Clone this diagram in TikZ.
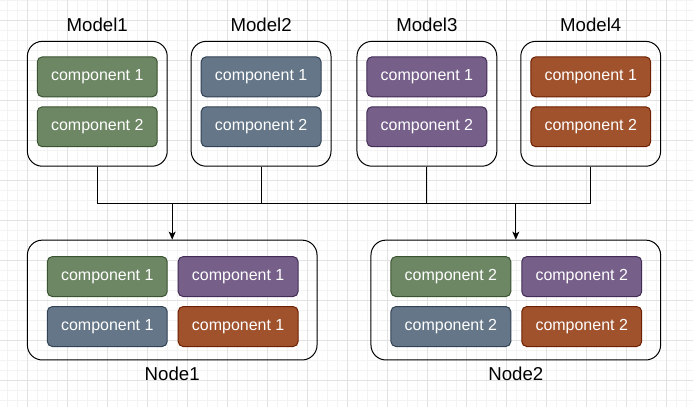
\documentclass[tikz,border=0pt]{standalone}
\usepackage{fontspec}
\setmainfont{Liberation Sans}
\usetikzlibrary{arrows.meta,positioning}

\definecolor{greenfill}{HTML}{6D8764}
\definecolor{greendraw}{HTML}{3A5431}
\definecolor{bluefill}{HTML}{647687}
\definecolor{bluedraw}{HTML}{314354}
\definecolor{purplefill}{HTML}{76608A}
\definecolor{purpledraw}{HTML}{432D57}
\definecolor{orangefill}{HTML}{A0522D}
\definecolor{orangedraw}{HTML}{6D1F00}
\definecolor{gridmajor}{HTML}{E2E2E2}
\definecolor{gridminor}{HTML}{F3F3F3}

\tikzset{
	groupbox/.style={draw=black, line width=1pt, rounded corners=15pt, inner sep=0pt},
	comp/.style={fill=#1fill, draw=#1draw, line width=1pt, rounded corners=5pt,
		minimum width=120pt, minimum height=40pt, inner sep=0pt,
		text=white, font=\fontsize{16}{19}\selectfont},
	title/.style={font=\fontsize{18.67}{22}\selectfont, inner sep=0pt},
	link/.style={draw=black, line width=1pt},
	arrowtip/.style={-{Stealth[length=8pt,width=7pt,inset=2pt]}}
}

\begin{document}
\begin{tikzpicture}[x=1pt,y=-1pt]
	\fill[white] (0,0) rectangle (693,407);
	% grid
	\foreach \x in {7,17,...,687}
	\draw[gridminor, line width=0.8pt] (\x,0) -- (\x,407);
	\foreach \y in {0,10,...,400}
	\draw[gridminor, line width=0.8pt] (0,\y) -- (693,\y);
	\foreach \x in {27,67,...,667}
	\draw[gridmajor, line width=0.8pt] (\x,0) -- (\x,407);
	\foreach \y in {20,60,...,380}
	\draw[gridmajor, line width=0.8pt] (0,\y) -- (693,\y);
	% models
	\foreach \n/\x/\c in {1/97/green,2/261/blue,3/427/purple,4/591/orange} {
		\node[groupbox, minimum width=140pt, minimum height=125pt] (m\n) at (\x,103.5) {};
		\node[title] (m\n-title) at (\x,24.5) {Model\n};
		\node[comp=\c] (m\n-a) at (\x,76.5) {component 1};
		\node[comp=\c] (m\n-b) at (\x,126.5) {component 2};
	}
	% nodes
	\foreach \n/\x/\k in {1/172/1,2/516/2} {
		\node[groupbox, minimum width=290pt, minimum height=120pt] (n\n) at (\x,300) {};
		\node[title] (n\n-title) at (\x,373.5) {Node\n};
		\node[comp=green] (n\n-a) at (\x-65,276.5) {component \k};
		\node[comp=purple] (n\n-b) at (\x+66,276.5) {component \k};
		\node[comp=blue] (n\n-c) at (\x-65,326.5) {component \k};
		\node[comp=orange] (n\n-d) at (\x+66,326.5) {component \k};
	}
	% connectors
	\coordinate (bus) at (0,203);
	\draw[link] (m1.south) -- (m1.south |- bus) -- (m4.south |- bus) -- (m4.south);
	\draw[link] (m2.south) -- (m2.south |- bus);
	\draw[link] (m3.south) -- (m3.south |- bus);
	\draw[link, arrowtip] (n1.north |- bus) -- (n1.north);
	\draw[link, arrowtip] (n2.north |- bus) -- (n2.north);
\end{tikzpicture}
\end{document}
